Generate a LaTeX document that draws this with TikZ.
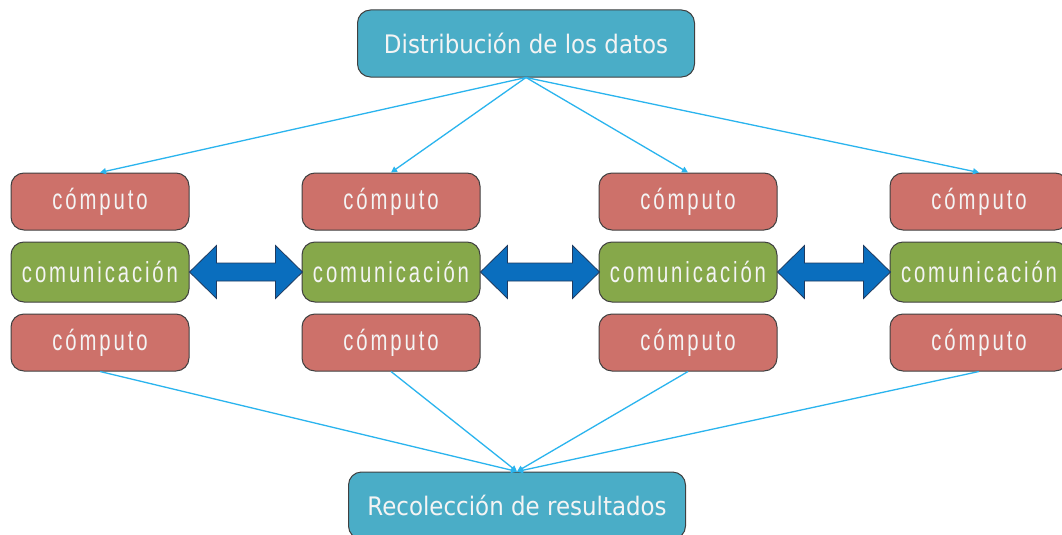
\documentclass[tikz,border=0pt]{standalone}
\usepackage{fontspec}
\usetikzlibrary{arrows.meta}
\newfontfamily\titlefont[FakeStretch=0.9]{DejaVu Sans}
\newfontfamily\boxfont[FakeStretch=0.7,LetterSpace=10]{Liberation Sans}
\definecolor{aquabox}{HTML}{4AADC7}
\definecolor{redbox}{HTML}{CD716A}
\definecolor{greenbox}{HTML}{86A84A}
\definecolor{edgegray}{HTML}{404040}
\definecolor{linkblue}{HTML}{2AB4EE}
\definecolor{arrowblue}{HTML}{0A6EBE}
\definecolor{arrowedge}{HTML}{1F3A5F}
\definecolor{txtwhite}{HTML}{F4F4F4}
\begin{document}
\begin{tikzpicture}[x=1pt,y=-1pt,
  basebox/.style={draw=edgegray,line width=1pt,rounded corners=13pt,inner sep=0pt,text=txtwhite},
  bigbox/.style={basebox,fill=aquabox,minimum width=337pt,minimum height=67pt,font=\titlefont\fontsize{25.5}{30}\selectfont},
  cbox/.style={basebox,fill=redbox,minimum width=178pt,minimum height=57pt,font=\boxfont\fontsize{29}{34}\selectfont},
  mbox/.style={basebox,fill=greenbox,minimum width=178pt,minimum height=60pt,font=\boxfont\fontsize{29}{34}\selectfont},
  link/.style={draw=linkblue,line width=1.3pt,-{Triangle[length=6pt,width=6pt]}},
  dblarrow/.style={fill=arrowblue,draw=arrowedge,line width=0.8pt,line join=miter},
  pics/dbl/.style={code={\draw[dblarrow] (0,0) -- (27,-26.5) -- (27,-9) -- (#1-27,-9) -- (#1-27,-26.5) -- (#1,0) -- (#1-27,26.5) -- (#1-27,9) -- (27,9) -- (27,26.5) -- cycle;}}
]
\clip (0,0) rectangle (1062,535);
\fill[white] (0,0) rectangle (1062,535);

\node[bigbox] (top) at (526,43.5) {Distribución de los datos};
\node[bigbox] (bot) at (517,505.5) {Recolección de resultados};

\foreach \i/\x in {1/100,2/391,3/688,4/979}{
  \node[cbox] (a\i) at (\x,201.5) {cómputo};
  \node[mbox] (m\i) at (\x,272) {comunicación};
  \node[cbox] (b\i) at (\x,342.5) {cómputo};
}

\foreach \i in {1,2,3,4}{
  \draw[link] (top.south) -- (a\i.north);
  \draw[link] (b\i.south) -- (bot.north);
}

\pic at (m1.east) {dbl=113};
\pic at (m2.east) {dbl=119};
\pic at (m3.east) {dbl=113};
\end{tikzpicture}
\end{document}
